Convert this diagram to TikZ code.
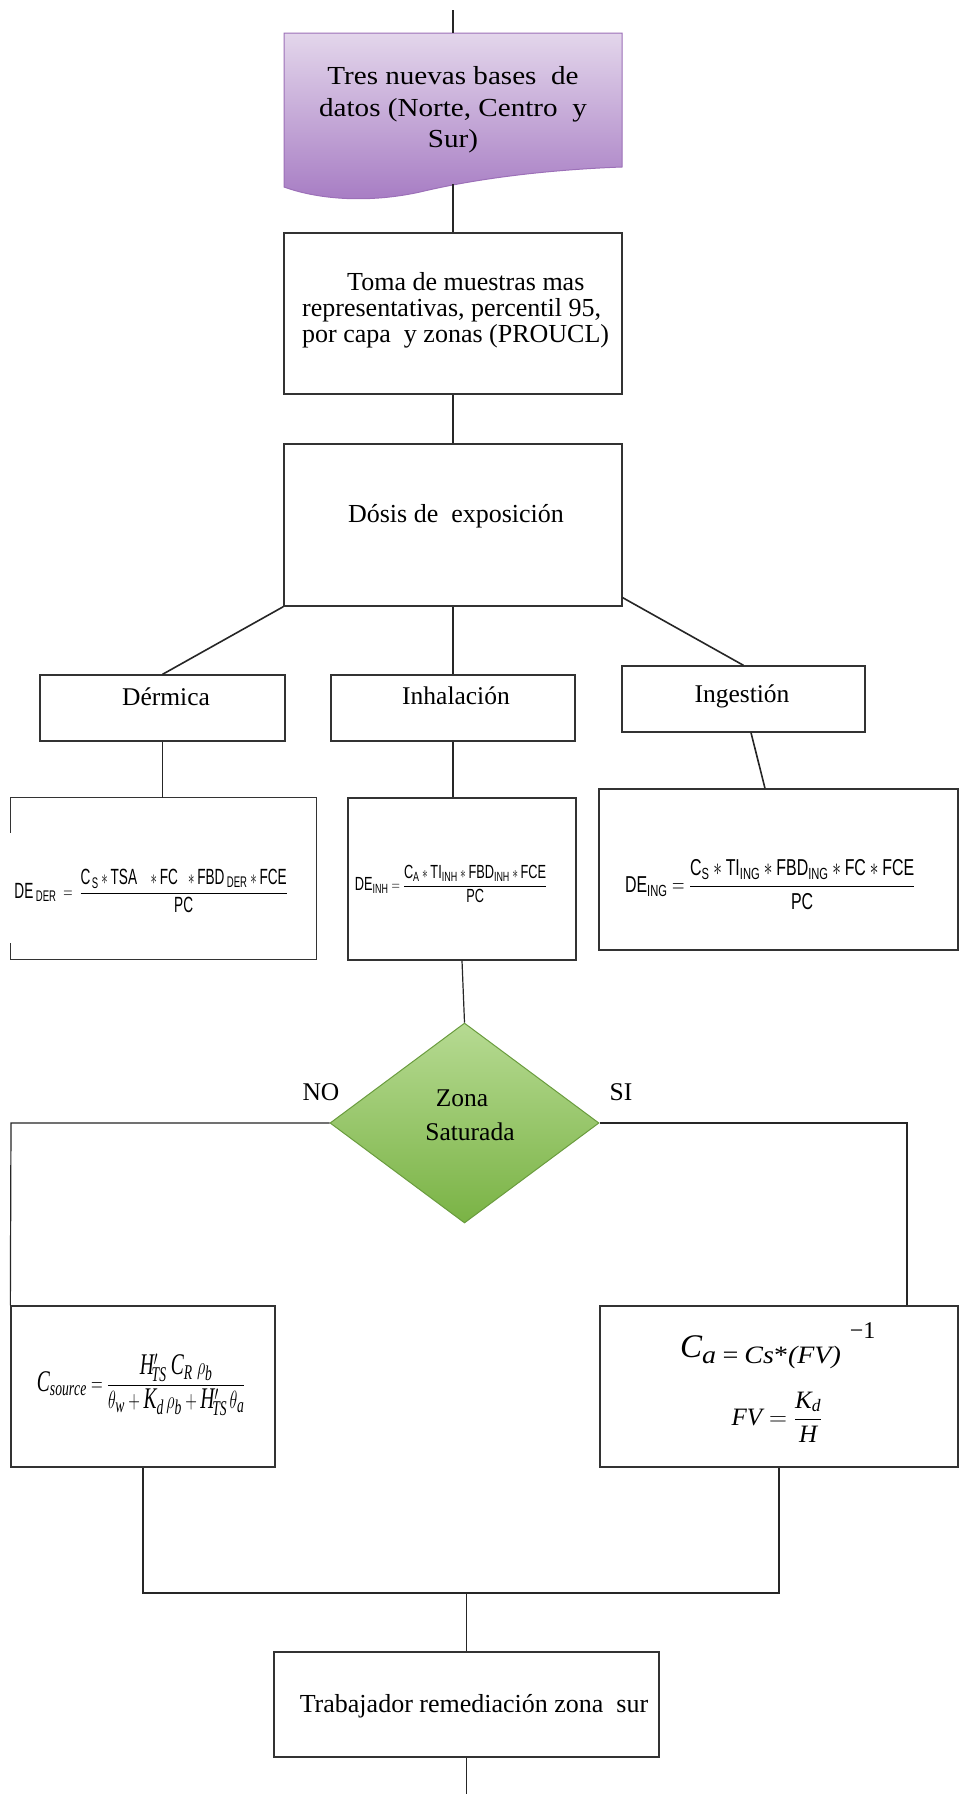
\documentclass[tikz,border=0pt]{standalone}
\usepackage{graphicx}
\usepackage{fontspec}
\setmainfont{Liberation Serif}
\setsansfont{Liberation Sans}
\usetikzlibrary{shapes.geometric,calc}
\definecolor{purpTop}{HTML}{E3D6EB}
\definecolor{purpBot}{HTML}{A67BC3}
\definecolor{purpLine}{HTML}{9C70B8}
\definecolor{grnTop}{HTML}{B6DA92}
\definecolor{grnBot}{HTML}{7AB345}
\definecolor{grnLine}{HTML}{6A9C3E}
\tikzset{
  conn/.style={draw=black!85, line width=1.2pt},
  diag/.style={draw=black!85, line width=1.6pt},
  boxn/.style={draw=black!80, line width=1.3pt, rectangle, inner sep=0pt},
  emptybox/.style={rectangle, inner sep=0pt},
  txtA/.style={font=\fontsize{26}{31.5}\selectfont, inner sep=0pt},
  txtB/.style={font=\fontsize{26}{26}\selectfont, inner sep=0pt},
  txtC/.style={font=\fontsize{25.5}{30}\selectfont, inner sep=0pt},
}
\begin{document}
\begin{tikzpicture}[x=1pt,y=-1pt]
\useasboundingbox[fill=white] (0,0) rectangle (959,1794);

% --- purple document shape
\shade[top color=purpTop, bottom color=purpBot, draw=purpLine, line width=1pt]
  (284,33) -- (622,33) -- (622,167)
  .. controls (540,170) and (470,180) .. (420,192)
  .. controls (370,203) and (320,200) .. (284,187) -- cycle;
\coordinate (startC) at (453,10);
\coordinate (dbTop) at (453,33);
\coordinate (dbBot) at (453,184);
\node[txtA, align=center] (db) at (453,110)
  {\scalebox{1.12}[1]{Tres nuevas bases\ \ de}\\
   \scalebox{1.12}[1]{datos (Norte,\ Centro\ \ y}\\
   \scalebox{1.12}[1]{Sur)}};

% --- boxes
\node[boxn, minimum width=338pt, minimum height=161pt] (toma) at (453,313.5) {};
\node[txtB, align=left, anchor=west] (tomaT) at (302,310)
  {\hspace*{45pt}Toma de muestras mas\\representativas, percentil 95,\\por capa\ \ y zonas (PROUCL)};

\node[boxn, minimum width=338pt, minimum height=162pt] (dosis) at (453,525) {};
\node[txtB, anchor=base] (dosisT) at (456,522) {Dósis de\ \ exposición};

\node[boxn, minimum width=245pt, minimum height=66pt] (derm) at (162.5,708) {};
\node[txtC, anchor=base] (dermT) at (166,705) {Dérmica};
\node[boxn, minimum width=244pt, minimum height=66pt] (inh) at (453,708) {};
\node[txtC, anchor=base] (inhT) at (456,704) {Inhalación};
\node[boxn, minimum width=243pt, minimum height=66pt] (ing) at (743.5,699) {};
\node[txtC, anchor=base] (ingT) at (742,702) {Ingestión};

% formula boxes
\node[emptybox, minimum width=305pt, minimum height=161pt] (dder) at (163.5,878.5) {};
\draw[draw=black!80, line width=1.3pt] (dder.north west) ++(0,35) -- (dder.north west) -- (dder.north east)
  -- (dder.south east) -- (dder.south west) -- ++(0,-16);
\node[boxn, minimum width=228pt, minimum height=162pt] (dinh) at (462,879) {};
\node[boxn, minimum width=359pt, minimum height=161pt] (ding) at (778.5,869.5) {};

\node[font=\fontsize{22}{26}\selectfont, inner sep=0pt] (fder) at (151,891)
  {\resizebox{273pt}{\height}{$\displaystyle\mathsf{DE}_{\;\mathsf{DER}}\;=\;\frac{\mathsf{C}_{\,\mathsf{S}}\ast\mathsf{TSA}\;\;\;\ast\mathsf{FC}\;\;\ast\mathsf{FBD}_{\;\mathsf{DER}}\ast\mathsf{FCE}}{\mathsf{PC}}$}};
\node[font=\fontsize{19}{24}\selectfont, inner sep=0pt] (finh) at (451,884)
  {\resizebox{192pt}{\height}{$\displaystyle\mathsf{DE}_{\mathsf{INH}}=\frac{\mathsf{C}_{\mathsf{A}}\ast\mathsf{TI}_{\mathsf{INH}}\ast\mathsf{FBD}_{\mathsf{INH}}\ast\mathsf{FCE}}{\mathsf{PC}}$}};
\node[font=\fontsize{23}{28}\selectfont, inner sep=0pt] (fing) at (770,885)
  {\resizebox{290pt}{\height}{$\displaystyle\mathsf{DE}_{\mathsf{ING}}=\frac{\mathsf{C}_{\mathsf{S}}\ast\mathsf{TI}_{\mathsf{ING}}\ast\mathsf{FBD}_{\mathsf{ING}}\ast\mathsf{FC}\ast\mathsf{FCE}}{\mathsf{PC}}$}};

% decision
\node[diamond, draw=grnLine, line width=1pt, top color=grnTop, bottom color=grnBot,
  minimum width=269pt, minimum height=200pt, inner sep=0pt] (zs) at (464.5,1123) {};
\node[txtC, anchor=base] (zsT1) at (462,1106) {Zona};
\node[txtC, anchor=base] (zsT2) at (470,1140) {Saturada};
\node[txtC, anchor=base] (noT) at (321,1100) {NO};
\node[txtC, anchor=base] (siT) at (621,1100) {SI};

% lower formula boxes
\node[boxn, minimum width=264pt, minimum height=161pt] (csrc) at (143,1386.5) {};
\node[boxn, minimum width=358pt, minimum height=161pt] (ca) at (779,1386.5) {};

\node[font=\fontsize{30}{34}\selectfont, inner sep=0pt] (fsrc) at (141,1385)
  {\resizebox{208pt}{\height}{$\displaystyle \mathit{C}_{\mathit{source}}=\frac{\mathit{H}'_{\!\mathit{TS}}\;\mathit{C}_{\mathit{R}}\;\rho_{\mathit{b}}}{\theta_{\mathit{w}}+\mathit{K}_{\mathit{d}}\,\rho_{\mathit{b}}+\mathit{H}'_{\!\mathit{TS}}\,\theta_{\mathit{a}}}$}};

\node[anchor=base west, inner sep=0pt, font=\fontsize{33}{33}\selectfont\itshape] (fca) at (680,1357)
  {C\raisebox{-6pt}{\fontsize{25}{25}\selectfont\scalebox{1.12}[1]{a\,=\,Cs{\upshape *}(FV)}}\hspace{9pt}\raisebox{19pt}{\fontsize{24}{24}\selectfont\upshape −1}};
\node[font=\fontsize{25}{30}\selectfont, inner sep=0pt] (ffv) at (777,1417)
  {$\displaystyle \mathit{FV}=\frac{\mathit{K}_{\mathit{d}}}{\mathit{H}}$};

% final box
\node[boxn, minimum width=385pt, minimum height=105pt] (fin) at (466.5,1704.5) {};
\node[txtB, anchor=base] (finT) at (474,1712) {Trabajador remediación zona\ \ sur};

% --- connectors
\coordinate (mJ) at (466.5,1593);
\coordinate (noC) at (11,1123);
\coordinate (siC) at (907,1123);
\coordinate (endC) at (466.5,1794);

\draw[conn] (startC) -- (dbTop);
\draw[conn] (dbBot) -- (toma.north);
\draw[conn] (toma.south) -- (dosis.north);
\draw[diag] (dosis.south west) -- (derm.north);
\draw[conn] (dosis.south) -- (inh.north);
\draw[diag] ($(dosis.south east)+(0,-9)$) -- (ing.north);
\draw[conn] (derm.south) -- (derm.south |- dder.north);
\draw[conn] (inh.south) -- (inh.south |- dinh.north);
\draw[diag] ($(ing.south)+(7.5,0)$) -- ($(ding.north)+(-13.5,0)$);
\draw[conn] (dinh.south) -- (zs.north);
\draw[conn] (zs.west) -- (noC) -- (csrc.north west);
\draw[conn] (zs.east) -- (siC) -- (siC |- ca.north);
\draw[conn] (csrc.south) -- (csrc.south |- mJ) -- (ca.south |- mJ) -- (ca.south);
\draw[conn] (mJ) -- (fin.north);
\draw[conn] (fin.south) -- (endC);
\end{tikzpicture}
\end{document}
